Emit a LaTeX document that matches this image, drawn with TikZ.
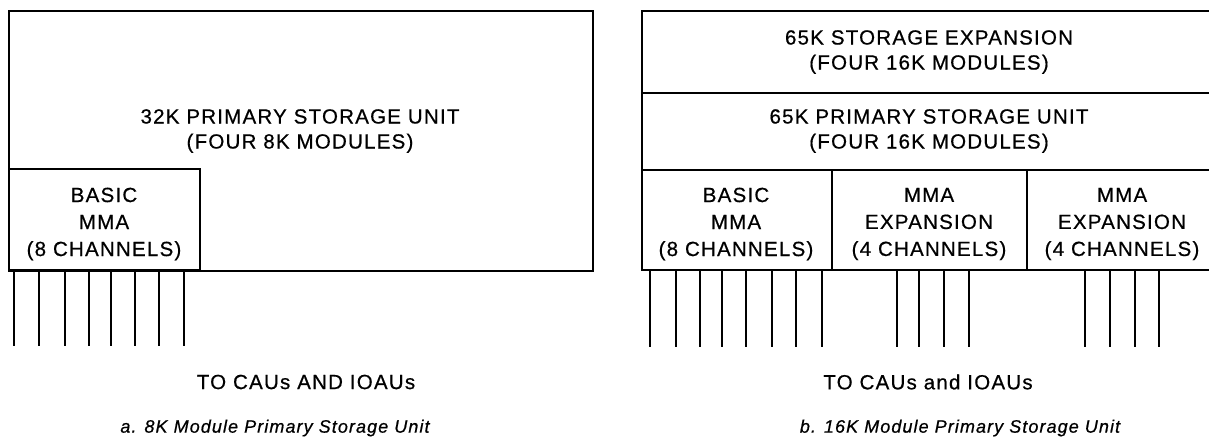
\documentclass[tikz,border=0pt]{standalone}
\usepackage{fontspec}
\setmainfont{Liberation Sans}[LetterSpace=6,FakeBold=0.6]
\begin{document}
\begin{tikzpicture}[x=1pt,y=-1pt,
  box/.style={draw, line width=2.2pt, inner sep=0pt, anchor=north west},
  chan/.style={line width=2.2pt},
  lbl/.style={align=center, inner sep=0pt, font=\fontsize{20.5}{25}\selectfont},
  mlbl/.style={align=center, inner sep=0pt, font=\fontsize{20.5}{27}\selectfont},
  captxt/.style={inner sep=0pt, font=\fontsize{18}{22}\selectfont\itshape}]
\useasboundingbox (0,0) rectangle (1209,447);
% ---- left diagram ----
\node[box, minimum width=584pt, minimum height=260pt] (psA) at (8,10) {};
\node[box, minimum width=191pt, minimum height=101pt] (mmaA) at (8,168) {};
\node[lbl] (tpsA) at (300,131) {32K PRIMARY STORAGE UNIT\\(FOUR 8K MODULES)};
\node[mlbl] (tmmaA) at (104,224) {BASIC\\MMA\\(8 CHANNELS)};
\foreach \dx in {6,31,57,81,103,127,151,176}
  \draw[chan] (mmaA.south west) ++(\dx,0) -- ++(0,75);
\node[lbl] (toA) at (306,382) {TO CAUs AND IOAUs};
\node[captxt] (capA) at (275,428) {a.\hspace{8pt}8K Module Primary Storage Unit};
% ---- right diagram ----
\node[box, minimum width=576pt, minimum height=82pt] (expB) at (641,10) {};
\node[box, minimum width=576pt, minimum height=77pt] (psB) at (641,92) {};
\node[box, minimum width=190pt, minimum height=100pt] (mmaB) at (641,169) {};
\node[box, minimum width=195pt, minimum height=100pt] (mmaB2) at (831,169) {};
\node[box, minimum width=191pt, minimum height=100pt] (mmaB3) at (1026,169) {};
\node[lbl] (texpB) at (929,52) {65K STORAGE EXPANSION\\(FOUR 16K MODULES)};
\node[lbl] (tpsB) at (929,131) {65K PRIMARY STORAGE UNIT\\(FOUR 16K MODULES)};
\node[mlbl] (tmmaB) at (736,224) {BASIC\\MMA\\(8 CHANNELS)};
\node[mlbl] (tmmaB2) at (929,224) {MMA\\EXPANSION\\(4 CHANNELS)};
\node[mlbl] (tmmaB3) at (1122,224) {MMA\\EXPANSION\\(4 CHANNELS)};
\foreach \dx in {9,35,59,81,105,131,155,181}
  \draw[chan] (mmaB.south west) ++(\dx,0) -- ++(0,76);
\foreach \dx in {66,88,113,138}
  \draw[chan] (mmaB2.south west) ++(\dx,0) -- ++(0,76);
\foreach \dx in {59,84,109,133}
  \draw[chan] (mmaB3.south west) ++(\dx,0) -- ++(0,76);
\node[lbl] (toB) at (928,382) {TO CAUs and IOAUs};
\node[captxt] (capB) at (960,428) {b.\hspace{8pt}16K Module Primary Storage Unit};
\end{tikzpicture}
\end{document}
